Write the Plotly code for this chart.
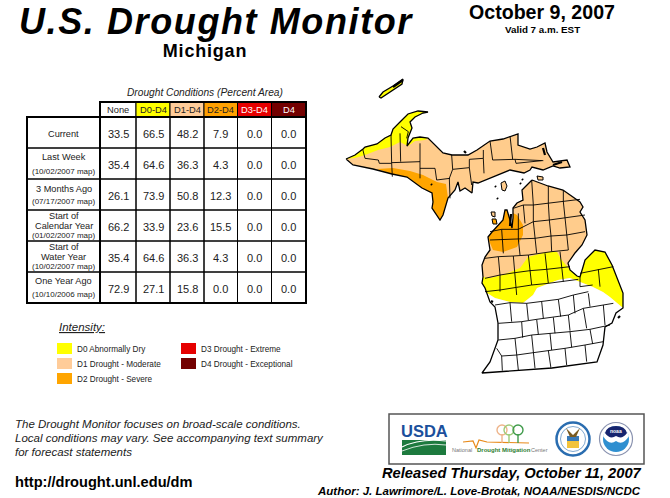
import json
import plotly.graph_objects as go

W, H = 670, 498
FONT = "Liberation Sans"

# table values
col_names = ["None", "D0-D4", "D1-D4", "D2-D4", "D3-D4", "D4"]
col_fill = ["#ffffff", "#ffff00", "#ffcc99", "#ffa000", "#e60000", "#730000"]
col_text = ["#222222", "#222222", "#222222", "#222222", "#ffffff", "#ffffff"]
current = [33.5, 66.5, 48.2, 7.9, 0.0, 0.0]
last_week = [35.4, 64.6, 36.3, 4.3, 0.0, 0.0]
three_months = [26.1, 73.9, 50.8, 12.3, 0.0, 0.0]
calendar_year = [66.2, 33.9, 23.6, 15.5, 0.0, 0.0]
water_year = [35.4, 64.6, 36.3, 4.3, 0.0, 0.0]
one_year = [72.9, 27.1, 15.8, 0.0, 0.0, 0.0]
rows = [current, last_week, three_months, calendar_year, water_year, one_year]
row_labels = [
    ["Current"],
    ["Last Week", "(10/02/2007 map)"],
    ["3 Months Ago", "(07/17/2007 map)"],
    ["Start of", "Calendar Year", "(01/02/2007 map)"],
    ["Start of", "Water Year", "(10/02/2007 map)"],
    ["One Year Ago", "(10/10/2006 map)"],
]
row_label_y = [[134], [157, 171], [189, 201], [216, 226, 235.5], [247, 257, 266.5], [281, 294]]
col_edges = [100, 136, 170, 204, 237.5, 271.5, 306]
row_edges = [117, 148, 179, 210, 241, 272, 303]

legend_left = ["D0 Abnormally Dry", "D1 Drought - Moderate", "D2 Drought - Severe"]
legend_right = ["D3 Drought - Extreme", "D4 Drought - Exceptional"]

# map outlines in page pixels
upper_pen = [(346,159),(355,155),(363,149),(365,147),(377,144),(385,138),(391,135),(393,129),(402,120),(408,114),
             (418,111),(428,112),(423,113),(415,117),(410,122),(412,128),(408,138),(407,146),(413,138),(420,137),
             (428,138),(435,145),(443,153),(452,155),(463,155),(468,155),(477,150),(490,141),(503,139),(518,134),
             (518,145),(530,149),(537,147),(545,143),(547,152),(553,162),(567,160),(570,167),(560,168),(553,166),
             (543,170),(537,168),(532,167),(530,170),(524,173),(510,170),(492,177),(478,183),(473,182),(472,193),
             (465,188),(460,191),(458,182),(455,190),(448,198),(443,215),(440,220),(432,208),(433,202),(432,193),
             (422,188),(407,177),(392,174),(373,169),(353,165)]
upper_yellow = [(346,159),(355,155),(363,149),(365,147),(377,144),(385,138),(391,135),(393,129),(402,120),(408,114),
                (418,111),(428,112),(423,113),(415,117),(410,122),(412,128),(408,138),(407,146),(413,138),(420,137),
                (428,138),(425,140),(415,141),(408,146),(400,142),(390,147),(378,150),(365,155),(355,158)]
upper_orange = [(377,169),(393,168),(410,171),(423,175),(437,182),(446,184),(448,198),(443,215),(440,220),(432,208),
                (433,202),(432,193),(422,188),(407,177),(392,174)]
lower_pen = [(532,180),(548,186),(563,190),(580,202),(583,207),(580,212),(585,220),(587,235),(582,245),(575,253),
             (568,263),(570,270),(577,276),(580,277),(583,267),(585,260),(595,250),(605,252),(612,265),(617,277),
             (623,293),(623,308),(616,313),(612,323),(605,327),(603,345),(598,360),(597,362),(552,368),(482,373),
             (490,362),(495,348),(498,340),(498,323),(495,307),(490,302),(486,290),(485,288),(482,283),(483,277),
             (482,265),(485,257),(490,250),(488,237),(492,232),(503,220),(505,210),(507,210),(510,220),(512,228),
             (513,218),(513,208),(517,203),(523,200),(522,190)]
lower_orange = [(505,210),(503,220),(492,232),(488,237),(490,243),(493,250),(503,252),(517,247),(523,235),(523,225),
                (517,215),(513,213),(513,218),(512,228),(510,220),(507,210)]
lower_yellow = [(483,277),(490,278),(503,275),(520,268),(528,257),(547,252),(557,252),(561,259),(570,270),(577,276),
                (580,277),(583,267),(585,260),(595,250),(605,252),(612,265),(617,277),(623,293),(623,308),(610,297),
                (603,292),(593,287),(580,282),(570,278),(558,280),(537,288),(533,295),(523,303),(510,302),(495,298),
                (487,293),(486,290),(485,288),(482,283)]
lower_white = [(623,308),(616,313),(612,323),(605,327),(603,345),(598,360),(597,362),(552,368),(482,373),(490,362),
               (495,348),(498,340),(498,323),(495,307),(490,302),(486,290),(487,293),(495,298),(510,302),(523,303),
               (533,295),(537,288),(558,280),(570,278),(580,282),(593,287),(603,292),(610,297)]
isle_royale = [(379,97),(383,92),(393,86),(403,79),(402,84),(393,90),(385,96),(381,98)]
islands_tan = [[(501,183),(505,181),(507,186),(505,191),(502,190)], [(491,212),(495,212),(495,217),(492,216)],
               [(537,176),(543,177),(543,180),(538,180)]]
islands_orange = [[(492,219),(496,219),(497,224),(493,224)]]
# heavy black bits of coast and the specks of shoal
coast_marks = [[(393,87),(403,80)], [(511,214),(510,226)], [(553,165),(562,162)], [(464,151),(466,153)],
               [(543,148),(545,155)], [(431,184),(432,185)], [(491,301),(493,302)], [(618,318),(620,316)],
               [(495,186),(496,187)], [(497,198),(498,199)], [(520,183),(521,184)], [(522,179),(523,180)]]

# county lines, as (x, y) in the 3x crops of each part of the map
up_counties = [
    [(68,237),(75,265),(115,270),(118,280),(155,280),(157,320)],
    [(153,195),(155,280)], [(180,190),(182,275)], [(155,278),(240,275)], [(183,170),(205,185),(200,205)],
    [(240,220),(240,325)], [(240,295),(285,295),(290,330),(330,325)], [(335,255),(338,298),(328,325),(330,385)],
    [(338,298),(388,293),(395,345)], [(388,268),(430,265),(430,240)], [(388,268),(388,293)], [(430,265),(432,310)],
    [(450,213),(458,270),(525,268),(610,272)], [(510,198),(518,268)], [(525,268),(528,280),(605,272)],
]
lp_counties = [
    [(185,30),(190,105),(190,155),(195,205),(200,250)], [(235,48),(235,100),(238,150),(243,198),(245,245)],
    [(280,60),(280,95),(285,143),(290,195),(295,240)],
    [(130,115),(160,105),(190,105),(235,100),(280,95),(330,88)],
    [(60,185),(95,178),(145,178),(190,155),(238,150),(285,143),(345,135)],
    [(60,210),(145,207),(195,205),(243,198),(290,195),(345,185)],
    [(145,130),(145,207),(150,255)], [(95,178),(97,210),(100,250)], [(160,105),(165,160)],
    [(45,265),(85,260),(130,258),(175,255),(245,245),(295,240)],
    [(85,260),(90,315),(90,365)], [(130,258),(135,308),(140,375)], [(175,255),(180,302),(185,345)],
    [(225,250),(230,298),(235,340)], [(270,245),(275,292),(280,335)],
    [(45,325),(90,315),(135,308),(180,302),(230,298),(275,292),(300,290)],
    [(45,365),(90,360),(140,352),(185,345),(235,340),(280,335),(325,328)],
    [(330,310),(385,298),(430,290)], [(385,298),(390,350)], [(330,322),(330,350),(368,345)],
]
south_counties = [
    [(75,45),(120,38),(170,40),(215,35),(265,28),(310,15),(355,5)],
    [(85,100),(155,95),(200,88),(250,82),(295,75),(340,55),(395,45),(430,40)],
    [(85,150),(135,145),(185,135),(245,130),(300,125),(360,118),(420,105)],
    [(95,198),(140,195),(190,188),(235,182),(285,175),(345,165),(400,155)],
    [(120,38),(125,95)], [(170,40),(175,90)], [(215,35),(220,85)], [(265,28),(272,80)], [(310,15),(315,70)],
    [(355,10),(360,50)], [(400,45),(405,105)], [(155,95),(158,143)], [(200,88),(205,133)], [(250,82),(255,130)],
    [(295,75),(300,122)], [(340,55),(350,115)], [(360,118),(368,162)], [(135,145),(140,195),(145,240)],
    [(185,135),(190,185),(195,235)], [(240,130),(245,180)], [(300,125),(305,172)], [(80,175),(95,198),(97,242)],
    [(235,182),(243,235)], [(285,175),(290,225)], [(345,165),(350,215)],
]

TAN = "#ffcc8c"
YELLOW = "#ffff00"
ORANGE = "#ffa500"

# the original headline text runs wider than the font does
letter_spacing = {"U.S. Drought Monitor": 1.6, "Michigan": 0.8}


def from_crop(lines, x0, y0):
    return [[(x0 + x / 3, y0 + y / 3) for x, y in line] for line in lines]


def patch(pts, fill):
    return go.Scatter(x=[p[0] for p in pts] + [pts[0][0]], y=[p[1] for p in pts] + [pts[0][1]], mode="lines",
                      fill="toself", fillcolor=fill, line=dict(width=0, color=fill), hoverinfo="skip")


def outline(lines, width, color="#000000"):
    xs, ys = [], []
    for line in lines:
        xs += [p[0] for p in line] + [None]
        ys += [p[1] for p in line] + [None]
    return go.Scatter(x=xs, y=ys, mode="lines", line=dict(width=width, color=color), hoverinfo="skip")


def closed(pts):
    return pts + [pts[0]]


fig = go.Figure()

fig.add_trace(patch(upper_pen, TAN))
fig.add_trace(patch(upper_yellow, YELLOW))
fig.add_trace(patch(upper_orange, ORANGE))
fig.add_trace(patch(lower_pen, TAN))
fig.add_trace(patch(lower_orange, ORANGE))
fig.add_trace(patch(lower_yellow, YELLOW))
fig.add_trace(patch(lower_white, "#ffffff"))
fig.add_trace(patch(isle_royale, YELLOW))
for isl in islands_tan:
    fig.add_trace(patch(isl, TAN))
for isl in islands_orange:
    fig.add_trace(patch(isl, ORANGE))

fig.add_trace(outline(from_crop(up_counties, 340, 70), 0.9))
fig.add_trace(outline(from_crop(lp_counties, 470, 170), 0.9))
fig.add_trace(outline(from_crop(south_counties, 470, 290), 0.9))
fig.add_trace(outline([closed(upper_pen), closed(lower_pen), closed(isle_royale)], 1.3))
fig.add_trace(outline([closed(i) for i in islands_tan + islands_orange], 1))
fig.add_trace(outline(coast_marks, 2.2))

shapes = []
annots = []


def text(x, y, s, size, color="#222222", anchor="center", bold=False, italic=False):
    # annotations carry about 2px of padding on their sides
    if anchor == "left":
        x -= 2
    elif anchor == "right":
        x += 2
    # spaced text grows both ways from its middle
    x += letter_spacing.get(s, 0) * len(s) / 2
    if bold:
        s = "<b>" + s + "</b>"
    if italic:
        s = "<i>" + s + "</i>"
    annots.append(dict(x=x, y=y, text=s, showarrow=False, xanchor=anchor, yanchor="middle",
                       font=dict(family=FONT, size=size, color=color)))


def rect(x0, y0, x1, y1, fill="rgba(0,0,0,0)", line="#000000", width=0):
    shapes.append(dict(type="rect", x0=x0, y0=y0, x1=x1, y1=y1, fillcolor=fill,
                       line=dict(color=line, width=width)))


def ring(cx, cy, r, fill="rgba(0,0,0,0)", line="#000000", width=0):
    shapes.append(dict(type="circle", x0=cx - r, y0=cy - r, x1=cx + r, y1=cy + r, fillcolor=fill,
                       line=dict(color=line, width=width)))


# table
for i, name in enumerate(col_names):
    rect(col_edges[i], 102, col_edges[i + 1], row_edges[0], fill=col_fill[i], width=1)
    text((col_edges[i] + col_edges[i + 1]) / 2, 109.5, name, 9.3, color=col_text[i])
for r, row in enumerate(rows):
    rect(27, row_edges[r], col_edges[0], row_edges[r + 1], width=1)
    for lab, y in zip(row_labels[r], row_label_y[r]):
        text(63.5, y, lab, 8 if lab.startswith("(") else 9.2)
    for i, v in enumerate(row):
        rect(col_edges[i], row_edges[r], col_edges[i + 1], row_edges[r + 1], width=1)
        text((col_edges[i] + col_edges[i + 1]) / 2, (row_edges[r] + row_edges[r + 1]) / 2 + 1, f"{v:.1f}", 11)
rect(27, row_edges[0], 306, row_edges[-1], width=2)
rect(100, 102, 306, row_edges[-1], width=2)
rect(27, row_edges[0], 100, row_edges[-1], width=2)
text(204.5, 92.5, "Drought Conditions (Percent Area)", 10.2, italic=True)

# legend
text(59, 327, "<u>Intensity:</u>", 11.5, anchor="left", italic=True)
for name, fill, y in zip(legend_left, ["#ffff00", "#ffcc99", "#ffa500"], [343, 358, 373]):
    rect(57, y, 72, y + 11, fill=fill)
    text(77, y + 6, name, 8.2, anchor="left")
for name, fill, y in zip(legend_right, ["#e60000", "#730000"], [343, 358]):
    rect(181, y, 196, y + 11, fill=fill)
    text(201, y + 6, name, 8.2, anchor="left")

# titles
text(19, 21, "U.S. Drought Monitor", 36, color="#000000", anchor="left", bold=True, italic=True)
text(163, 51, "Michigan", 18, color="#000000", anchor="left", bold=True)
text(542, 12, "October 9, 2007", 19.6, color="#000000", bold=True)
text(542, 29.5, "Valid 7 a.m. EST", 9.8, color="#000000", bold=True)

# notes
text(15, 423.5, "The Drought Monitor focuses on broad-scale conditions.", 11.5, anchor="left", italic=True)
text(15, 437.5, "Local conditions may vary. See accompanying text summary", 11.5, anchor="left", italic=True)
text(15, 451.5, "for forecast statements", 11.5, anchor="left", italic=True)
text(15, 482, "http://drought.unl.edu/dm", 14.6, color="#000000", anchor="left", bold=True)
text(642, 473, "Released Thursday, October 11, 2007", 14.7, color="#000000", anchor="right", bold=True, italic=True)
text(641, 491, "Author: J. Lawrimore/L. Love-Brotak, NOAA/NESDIS/NCDC", 11.5, color="#000000", anchor="right",
     bold=True, italic=True)

# logo box
rect(389, 414, 644, 464, line="#555555", width=1.5)
text(424, 431, "USDA", 16.5, color="#1b4f9c", bold=True)
rect(402, 440, 446, 455, fill="#1d7a3e")
shapes.append(dict(type="path", path="M 402 447 Q 420 438 446 441", line=dict(color="#ffffff", width=1.2)))
shapes.append(dict(type="path", path="M 402 451 Q 424 442 446 445", line=dict(color="#ffffff", width=0.8)))

text(462, 450, "National", 5.5, color="#777777")
text(504, 450, "Drought Mitigation", 6, color="#2d7d32", bold=True)
text(539, 450, "Center", 5.5, color="#777777")
shapes.append(dict(type="path", path="M 463 442 L 473 441 L 476 448 L 479 440 L 487 442 L 529 443",
                   line=dict(color="#e88a1a", width=1.2)))
for cx, c in [(502, "#eeb48a"), (509, "#9ccb78"), (518, "#3f9a4a")]:
    ring(cx, 430, 5, line=c, width=1.4)
    shapes.append(dict(type="line", x0=cx, y0=434, x1=cx, y1=443, line=dict(color=c, width=1.4)))

# department of commerce seal
ring(573, 439, 16.5, fill="#ffffff", line="#2a6db0", width=2.5)
ring(573, 439, 12.5, line="#2a6db0", width=0.6)
rect(567, 436, 579, 441, fill="#3a7ab8")
rect(567, 441, 579, 448, fill="#f2c33c")
shapes.append(dict(type="path", path="M 566 428 L 573 435 L 580 428 L 576 437 L 570 437 Z", fillcolor="#7a5a20",
                   line=dict(width=0)))
# noaa seal
ring(616, 439, 16.5, fill="#ffffff", line="#8a93b0", width=1.2)
ring(616, 439, 13, fill="#2f8fd0")
shapes.append(dict(type="path", path="M 603 436 Q 609 446 616 441 Q 623 446 629 436 L 626 429 Q 616 424 606 429 Z",
                   fillcolor="#ffffff", line=dict(width=0)))
shapes.append(dict(type="path", path="M 605 433 Q 607 426 616 426 Q 625 426 627 433 Q 622 440 616 436 Q 610 440 605 433 Z",
                   fillcolor="#16246e", line=dict(width=0)))
text(616, 430.5, "noaa", 5, color="#ffffff", bold=True)

fig.update_layout(
    width=W, height=H, margin=dict(l=0, r=0, t=0, b=0), showlegend=False,
    paper_bgcolor="#ffffff", plot_bgcolor="#ffffff",
    xaxis=dict(range=[0, W], visible=False, fixedrange=True),
    yaxis=dict(range=[H, 0], visible=False, fixedrange=True),
    shapes=shapes, annotations=annots,
)

post = """
document.body.style.margin = '0';
var spacing = %s;
document.querySelectorAll('.annotation-text').forEach(function (t) {
  if (spacing[t.textContent]) { t.style.letterSpacing = spacing[t.textContent] + 'px'; }
});
""" % json.dumps(letter_spacing)
fig.write_html("out.html", config=dict(displayModeBar=False), post_script=post)
